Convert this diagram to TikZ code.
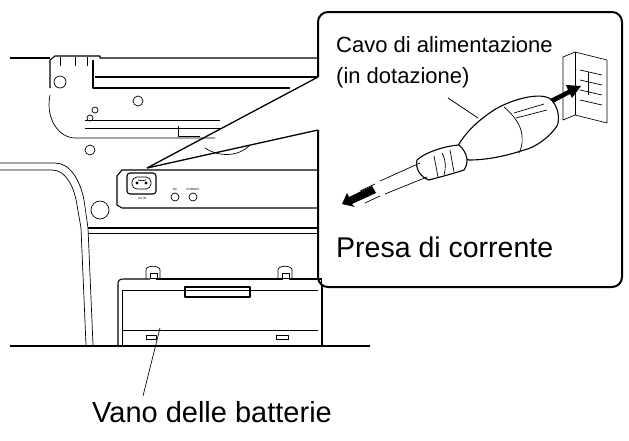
\documentclass[tikz,border=0pt]{standalone}
\usepackage{fontspec}
\setmainfont{Liberation Sans}
\usetikzlibrary{arrows.meta}
\begin{document}
\begin{tikzpicture}[x=1pt,y=-1pt,line join=round,
  ln/.style={line width=1.1pt},
  thin/.style={line width=0.7pt},
  lbl/.style={anchor=base west,inner sep=0pt}]
\useasboundingbox (0,0) rectangle (629,440);
% --- lid
\draw[ln] (10,58) -- (50,58);
\draw[ln] (50,88) -- (50,60) -- (55,56) -- (100,56) -- (100,58) -- (318,58);
\draw[thin] (60,57) -- (60,66) (75,57) -- (75,66) (87,57) -- (87,66);
\draw[ln] (93,60) -- (93,88) -- (290,88);
\draw[ln] (95,77) -- (318,77);
\draw[thin] (60,82) circle (6);
% --- upper body
\draw[thin] (50,95) .. controls (45,120) and (60,138) .. (75,138) -- (215,138);
\draw[thin] (85,120) -- (220,120) (85,128) -- (220,128);
\draw[thin] (90,118) circle (3);
\draw[thin] (138,101) circle (5) (95,110) circle (3) (90,150) circle (5) (100,210) circle (9);
\draw[thin] (178,126) -- (178,136) -- (200,136);
\draw[thin] (205,148) .. controls (220,158) and (240,156) .. (250,145);
% --- left side panel
\draw[thin] (0,163) -- (55,163) .. controls (70,163) and (80,180) .. (84,200) -- (88,228) -- (93,345);
\draw[thin] (0,170) -- (52,170) .. controls (65,170) and (74,185) .. (77,205) -- (81,228) -- (86,345);
% --- front panel
\draw[ln] (318,170) -- (122,170) -- (117,176) -- (117,205) -- (122,208) -- (318,208);
\draw[ln,rounded corners=3] (127,173) rectangle (156,194);
\draw[thin,rounded corners=5] (132,177) rectangle (151,189);
\fill (137,183) circle (1.6) (146,183) circle (1.6);
\draw[thin] (138,180) .. controls (141,181) and (143,181) .. (146,180);
\node[font=\fontsize{3}{3}\selectfont,inner sep=0] at (142,198) {AC IN};
\draw[thin] (175,197) circle (4) (193,197) circle (4);
\node[font=\fontsize{3}{3}\selectfont,inner sep=0] at (175,189) {DC};
\node[font=\fontsize{3}{3}\selectfont,inner sep=0] at (193,189) {PHONES};
\draw[ln] (88,228) -- (318,228);
\draw[thin] (88,233) -- (318,233);
% --- battery cover
\draw[ln] (118,345) -- (118,284) .. controls (118,280) and (120,279) .. (124,279) -- (150,279);
\draw[ln] (156,279) -- (283,279) (289,279) -- (318,279);
\draw[thin] (146,279) -- (146,270) .. controls (146,265) and (160,265) .. (160,270) -- (160,279);
\draw[thin] (150,273) rectangle (157,278);
\draw[thin] (278,279) -- (278,270) .. controls (278,265) and (292,265) .. (292,270) -- (292,279);
\draw[thin] (282,273) rectangle (289,278);
\draw[thin] (122,345) -- (122,290) -- (318,290);
\draw[thin] (122,330) -- (318,330);
\draw[ln] (185,287) rectangle (250,297);
\draw[thin] (146,335) rectangle (156,339) (276,335) rectangle (288,339);
\draw[ln] (318,279) -- (322,279) -- (322,345);
\draw[ln] (10,346) -- (370,346);
% --- leader to battery label
\node[lbl,font=\fontsize{29}{29}\selectfont] (vano) at (92,422) {Vano delle batterie};
\coordinate (vt) at (160,328);
\draw[thin] (vt) -- (143,396);
% --- callout box
\coordinate (sock) at (147,168);
\fill[white] (322,14) rectangle (620,285);
\draw[line width=2pt,rounded corners=10] (318,77) -- (318,12) -- (622,12) -- (622,287) -- (318,287) -- (318,130);
\draw[line width=1.3pt] (sock) -- (318,77);
\draw[line width=1.3pt] (sock) -- (318,130);
% --- texts in box
\node[lbl,font=\fontsize{22}{22}\selectfont] (cavo) at (336,52) {Cavo di alimentazione};
\node[lbl,font=\fontsize{22}{22}\selectfont] (dot) at (336,83) {(in dotazione)};
\node[lbl,font=\fontsize{28.5}{28.5}\selectfont] (presa) at (336,257) {Presa di corrente};
% --- wall socket
\draw[thin] (563,57) -- (575,52) -- (607,60) -- (607,123) -- (575,115) -- (563,120) -- cycle;
\draw[thin] (575,52) -- (575,115);
\draw[thin] (580,70) -- (602,75) (580,80) -- (602,85) (580,90) -- (602,95) (580,100) -- (602,105);
\draw[thin] (588,72) -- (588,95);
% --- arrow into socket
\fill (548,100) -- (568,90) -- (566,85) -- (581,86) -- (572,98) -- (570,94) -- (551,104) -- cycle;
% --- plug
\begin{scope}[shift={(4,10)}]
\draw[ln,fill=white] (490,100) .. controls (510,88) and (535,83) .. (545,88)
   .. controls (555,95) and (556,110) .. (553,116)
   .. controls (545,128) and (530,138) .. (520,140)
   .. controls (505,145) and (485,150) .. (465,150)
   .. controls (455,148) and (450,140) .. (455,134)
   .. controls (465,118) and (478,108) .. (490,100) -- cycle;
\draw[thin] (500,97) .. controls (518,112) and (522,128) .. (515,143);
\draw[thin] (510,103) -- (540,94) (512,108) -- (543,100);
\draw[ln,fill=white] (413,150) .. controls (420,143) and (440,136) .. (455,135)
   .. controls (464,143) and (465,153) .. (460,160)
   .. controls (445,165) and (432,168) .. (425,170)
   .. controls (416,167) and (411,158) .. (413,150) -- cycle;
\draw[thin] (430,146) -- (434,167) (438,143) .. controls (442,150) and (442,158) .. (440,165) (446,140) -- (450,162);
\end{scope}
\draw[thin] (420,163) -- (380,181) (427,177) -- (385,194);
\draw[thin] (375,184) -- (360,191) (380,196) -- (365,203);
\fill (342,204) -- (347,193) -- (349,197) -- (372,186) -- (376,193) -- (352,204) -- (355,207) -- cycle;
% leader for cable
\coordinate (ct) at (478,118);
\draw[thin] (448,98) -- (ct);
\end{tikzpicture}
\end{document}
